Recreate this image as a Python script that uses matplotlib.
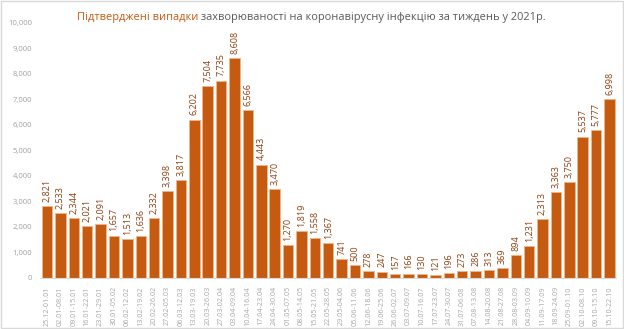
import matplotlib
matplotlib.use("Agg")
import matplotlib.pyplot as plt
from matplotlib.patches import Rectangle
import numpy as np

plt.rcParams['font.family'] = ['Open Sans', 'DejaVu Sans']

weeks = ['25.12-01.01', '02.01-08.01', '09.01-15.01', '16.01-22.01', '23.01-29.01',
         '30.01-05.02', '06.02-12.02', '13.02-19.02', '20.02-26.02', '27.02-05.03',
         '06.03-12.03', '13.03-19.03', '20.03-26.03', '27.03-02.04', '03.04-09.04',
         '10.04-16.04', '17.04-23.04', '24.04-30.04', '01.05-07.05', '08.05-14.05',
         '15.05-21.05', '22.05-28.05', '29.05-04.06', '05.06-11.06', '12.06-18.06',
         '19.06-25.06', '26.06-02.07', '03.07-09.07', '10.07-16.07', '17.07-23.07',
         '24.07-30.07', '31.07-06.08', '07.08-13.08', '14.08-20.08', '21.08-27.08',
         '28.08-03.09', '04.09-10.09', '11.09-17.09', '18.09-24.09', '25.09-01.10',
         '02.10-08.10', '09.10-15.10', '15.10-22.10']
cases = [2821, 2533, 2344, 2021, 2091, 1657, 1513, 1636, 2332, 3398,
         3817, 6202, 7504, 7735, 8608, 6566, 4443, 3470, 1270, 1819,
         1558, 1367, 741, 500, 278, 247, 157, 166, 130, 121,
         196, 273, 286, 313, 369, 894, 1231, 2313, 3363, 3750,
         5537, 5777, 6998]

fig = plt.figure(figsize=(6.24, 3.29), dpi=100)
ax = fig.add_axes([0.0646, 0.1556, 0.9229, 0.7751])

x = np.arange(len(weeks))
ax.bar(x, cases, width=0.78, color='#C55A11', edgecolor='#F2B48A', linewidth=0.6)

# value labels above bars
for xi, v in zip(x, cases):
    ax.annotate('{:,}'.format(v), (xi, v), xytext=(0, 3), textcoords='offset points',
                rotation=90, ha='center', va='bottom', fontsize=6.5, color='#8B3E0F')

ax.set_xlim(-0.5, len(weeks) - 0.5)
ax.set_ylim(0, 10000)
ax.set_yticks(np.arange(0, 10001, 1000))
ax.set_yticklabels(['{:,}'.format(t) for t in range(0, 10001, 1000)])
ax.set_xticks(x)
ax.set_xticklabels(weeks, rotation=90)
ax.tick_params(axis='y', length=0, pad=6, labelsize=5.5, labelcolor='#A0A0A0')
ax.tick_params(axis='x', length=0, pad=6, labelsize=5.2, labelcolor='#A6A6A6')
for s in ['top', 'right', 'left']:
    ax.spines[s].set_visible(False)
ax.spines['bottom'].set_color('#D9D9D9')
ax.spines['bottom'].set_linewidth(0.8)

# two-colour title
t1 = fig.text(0.1234, 0.948, 'Підтверджені випадки', fontsize=7.9, color='#C55A11',
              ha='left', va='center')
ax.annotate(' захворюваності на коронавірусну інфекцію за тиждень у 2021р.',
            xy=(1, 0.5), xycoords=t1, ha='left', va='center',
            fontsize=7.9, color='#595959', annotation_clip=False)

fig.patches.append(Rectangle((0.001, 0.002), 0.997, 0.995, transform=fig.transFigure,
                             fill=False, edgecolor='#D9D9D9', linewidth=1))

fig.savefig('out.png', dpi=100)
